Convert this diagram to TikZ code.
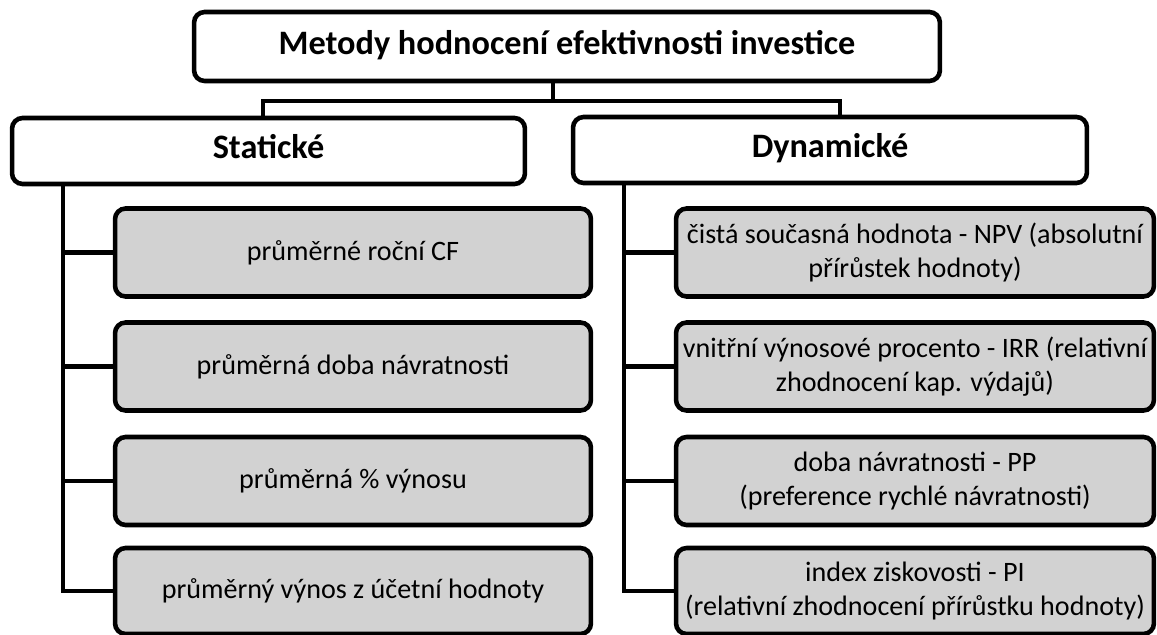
\documentclass[tikz,border=0pt]{standalone}
\usepackage{fontspec}
\setmainfont{Carlito}
\definecolor{boxgray}{RGB}{210,210,210}
\tikzset{
  base/.style={draw=black, line width=2.6pt, rounded corners=6pt, inner sep=0pt, outer sep=0pt, align=center},
  headbox/.style={base, fill=white, font=\bfseries\fontsize{19.5}{23}\selectfont, text height=2.6ex, text depth=0.75ex},
  itembox/.style={base, fill=boxgray, minimum height=1.76cm, font=\fontsize{16}{19.5}\selectfont},
  conn/.style={line width=2.6pt, draw=black}
}
\begin{document}
\begin{tikzpicture}[x=0.02cm, y=-0.02cm]
\useasboundingbox (0,0) rectangle (1157,635);
% headers
\node[headbox, minimum width=14.92cm, minimum height=1.38cm] (top) at (567,46.5) {Metody hodnocení efektivnosti investice};
\node[headbox, minimum width=10.26cm, minimum height=1.32cm] (stat) at (268.5,151) {Statické};
\node[headbox, minimum width=10.28cm, minimum height=1.32cm] (dyn) at (830,150) {Dynamické};
% left items
\node[itembox, minimum width=9.52cm] (l1) at (353,252.5) {průměrné roční CF};
\node[itembox, minimum width=9.52cm] (l2) at (353,366.5) {průměrná doba návratnosti};
\node[itembox, minimum width=9.52cm] (l3) at (353,481) {průměrná \% výnosu};
\node[itembox, minimum width=9.52cm, minimum height=1.72cm] (l4) at (353,591) {průměrný výnos z účetní hodnoty};
% right items
\node[itembox, minimum width=9.56cm] (r1) at (915,252.5) {čistá současná hodnota - NPV (absolutní\\ přírůstek hodnoty)};
\node[itembox, minimum width=9.56cm] (r2) at (915,366.5) {vnitřní výnosové procento - IRR (relativní\\ zhodnocení kap. výdajů)};
\node[itembox, minimum width=9.56cm] (r3) at (915,481) {doba návratnosti - PP\\ (preference rychlé návratnosti)};
\node[itembox, minimum width=9.56cm, minimum height=1.72cm] (r4) at (915,591) {index ziskovosti - PI\\ (relativní zhodnocení přírůstku hodnoty)};
% top connectors
\draw[conn] ([xshift=-0.28cm]top.south) -- ++(0,-0.4cm);
\draw[conn] ([xshift=-0.11cm]stat.north) -- ++(0,0.34cm) -| ([xshift=0.2cm]dyn.north);
% trunks
\coordinate (lt) at ([xshift=-4.11cm]stat.south);
\coordinate (rt) at ([xshift=-4.12cm]dyn.south);
\draw[conn] (lt) |- (l4.west);
\draw[conn] (rt) |- (r4.west);
\foreach \i in {1,2,3} {
  \draw[conn] (l\i.west) -- (l\i.west -| lt);
  \draw[conn] (r\i.west) -- (r\i.west -| rt);
}
\end{tikzpicture}
\end{document}
